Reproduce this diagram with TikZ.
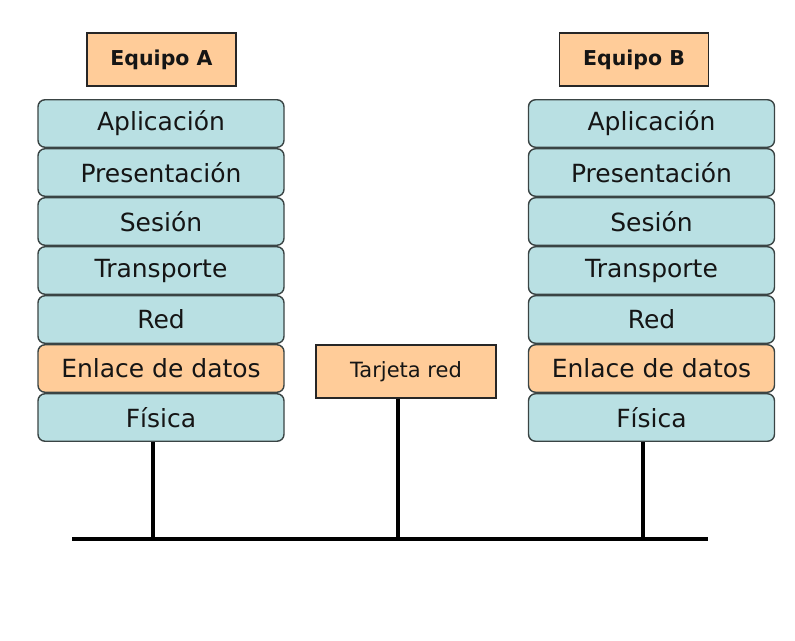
\documentclass[tikz,border=0pt]{standalone}
\usepackage{fontspec}
\setmainfont{DejaVu Sans}
\definecolor{layerfill}{HTML}{B9E0E3}
\definecolor{orangefill}{HTML}{FFCC99}
\definecolor{edgegray}{HTML}{3A4444}
\definecolor{textdark}{HTML}{151515}
\tikzset{
  layerbox/.style={draw=edgegray, line width=1.4pt, rounded corners=7pt, fill=layerfill,
    minimum width=246pt, minimum height=47.5pt, inner sep=0pt, text=textdark, font=\fontsize{25}{28}\selectfont},
  linkbox/.style={layerbox, fill=orangefill},
  teambox/.style={draw=black!85, line width=1.4pt, fill=orangefill, minimum width=149pt, minimum height=53pt,
    inner sep=0pt, text=textdark, font=\fontsize{20.5}{23}\selectfont\bfseries},
  cardbox/.style={draw=black!85, line width=1.4pt, fill=orangefill, minimum width=180pt, minimum height=53pt,
    inner sep=0pt, text=textdark, font=\fontsize{21}{24}\selectfont},
  wire/.style={line width=4.8pt, black}
}
\begin{document}
\begin{tikzpicture}[x=1pt,y=-1pt]
\useasboundingbox (0,0) rectangle (795,640);
% Equipo A
\node[teambox] (eqA) at (161.5,59.5) {Equipo A};
\node[layerbox] (apA) at (161,123.5) {Aplicación};
\node[layerbox] (prA) at (161,172.5) {Presentación};
\node[layerbox] (seA) at (161,221.5) {Sesión};
\node[layerbox] (trA) at (161,270.5) {Transporte};
\node[layerbox] (reA) at (161,319.5) {Red};
\node[linkbox]  (enA) at (161,368.5) {Enlace de datos};
\node[layerbox] (fiA) at (161,417.5) {Física};
% Equipo B
\node[teambox] (eqB) at (634,59.5) {Equipo B};
\node[layerbox] (apB) at (651.5,123.5) {Aplicación};
\node[layerbox] (prB) at (651.5,172.5) {Presentación};
\node[layerbox] (seB) at (651.5,221.5) {Sesión};
\node[layerbox] (trB) at (651.5,270.5) {Transporte};
\node[layerbox] (reB) at (651.5,319.5) {Red};
\node[linkbox]  (enB) at (651.5,368.5) {Enlace de datos};
\node[layerbox] (fiB) at (651.5,417.5) {Física};
% Tarjeta red
\node[cardbox] (card) at (406,371.5) {Tarjeta red};
% bus
\coordinate (busL) at (72,539);
\coordinate (busR) at (708,539);
\draw[wire] (busL) -- (busR);
\draw[wire] ([xshift=-8pt]fiA.south) -- ([xshift=-8pt]fiA.south |- busL);
\draw[wire] ([xshift=-8pt]card.south) -- ([xshift=-8pt]card.south |- busL);
\draw[wire] ([xshift=-8.5pt]fiB.south) -- ([xshift=-8.5pt]fiB.south |- busL);
\end{tikzpicture}
\end{document}
